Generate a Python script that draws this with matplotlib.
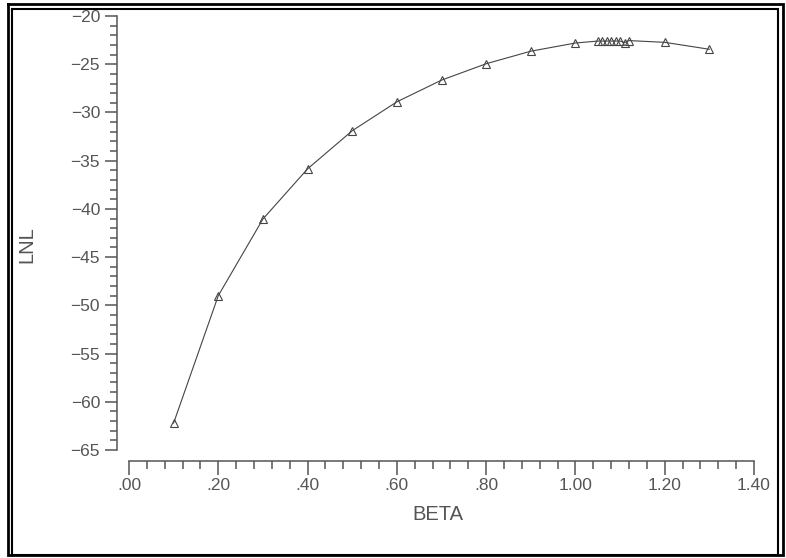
import matplotlib
matplotlib.use("Agg")
from matplotlib import pyplot as plt
from matplotlib.lines import Line2D
from matplotlib.ticker import MultipleLocator, FixedFormatter, FixedLocator

# data
beta = [0.10, 0.20, 0.30, 0.40, 0.50, 0.60, 0.70, 0.80, 0.90, 1.00,
        1.05, 1.06, 1.07, 1.08, 1.09, 1.10, 1.11, 1.12, 1.20, 1.30]
lnl = [-62.2, -49.0, -41.05, -35.85, -31.9, -28.9, -26.65, -24.95, -23.65, -22.8,
       -22.6, -22.6, -22.6, -22.6, -22.6, -22.6, -22.75, -22.55, -22.73, -23.45]

x_ticks = [0.0, 0.2, 0.4, 0.6, 0.8, 1.0, 1.2, 1.4]
x_labels = [".00", ".20", ".40", ".60", ".80", "1.00", "1.20", "1.40"]
y_ticks = [-65, -60, -55, -50, -45, -40, -35, -30, -25, -20]

W, H = 786, 558
PT = 0.72  # points per pixel at 100 dpi
grey = "#555555"
plt.rcParams["font.family"] = ["Liberation Sans", "DejaVu Sans"]

fig = plt.figure(figsize=(W / 100, H / 100), dpi=100)
ax = fig.add_axes([129 / W, 1 - 450 / H, 625 / W, 434 / H])

ax.plot(beta, lnl, color="#444444", lw=0.8, marker="^", ms=6,
        mfc="none", mec="#444444", mew=0.8)

ax.set_xlim(0, 1.4)
ax.set_ylim(-65, -20)

for s in ["top", "right"]:
    ax.spines[s].set_visible(False)
ax.spines["left"].set_position(("outward", 12 * PT))
ax.spines["bottom"].set_position(("outward", 11 * PT))
ax.spines["left"].set_bounds(-65, -20)
ax.spines["bottom"].set_bounds(0, 1.4)
for s in ["left", "bottom"]:
    ax.spines[s].set_color(grey)
    ax.spines[s].set_linewidth(1.1)

ax.xaxis.set_major_locator(FixedLocator(x_ticks))
ax.xaxis.set_major_formatter(FixedFormatter(x_labels))
ax.xaxis.set_minor_locator(MultipleLocator(0.04))
ax.yaxis.set_major_locator(FixedLocator(y_ticks))
ax.yaxis.set_minor_locator(MultipleLocator(1))

ax.tick_params(axis="both", which="both", direction="out", color=grey,
               labelcolor=grey, labelsize=12.5, width=1.1)
ax.tick_params(axis="x", which="major", length=14 * PT, pad=3 * PT)
ax.tick_params(axis="y", which="major", length=12 * PT, pad=5 * PT)
ax.tick_params(axis="x", which="minor", length=8 * PT)
ax.tick_params(axis="y", which="minor", length=7 * PT)

fig.text(438 / W, 1 - 515 / H, "BETA", ha="center", va="center",
         fontsize=14.5, color=grey)
fig.text(27 / W, 1 - 245 / H, "LNL", ha="center", va="center",
         fontsize=14.5, color=grey, rotation=90)


def frame(x0, y0, x1, y1, lw):
    xs = [x0 / W, x1 / W, x1 / W, x0 / W, x0 / W]
    ys = [1 - y0 / H, 1 - y0 / H, 1 - y1 / H, 1 - y1 / H, 1 - y0 / H]
    fig.add_artist(Line2D(xs, ys, color="black", lw=lw,
                          transform=fig.transFigure, solid_joinstyle="miter"))


frame(8, 4, 783, 554.5, 2.0)
frame(12, 9, 778, 554.5, 1.5)

fig.savefig("out.png", dpi=100)
